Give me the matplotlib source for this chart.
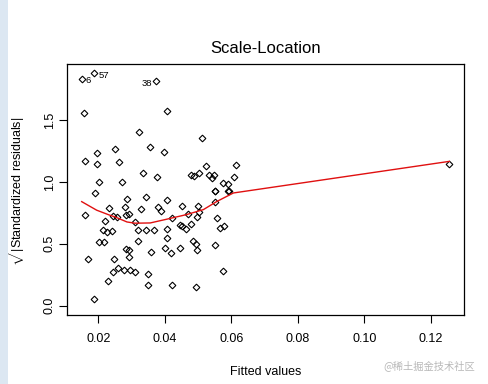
import numpy as np
import matplotlib
matplotlib.use("Agg")
import matplotlib.pyplot as plt
from matplotlib.patches import Rectangle

#%% Datos (Scale-Location de un lm)

# valores ajustados (eje x)
fitted = [0.0150, 0.0187, 0.0373, 0.0156, 0.0405, 0.0323, 0.0512, 0.0249, 0.0356, 0.0197,
          0.0398, 0.0160, 0.0196, 0.0262, 0.0335, 0.0376, 0.0202, 0.0271, 0.0190, 0.0343,
          0.0286, 0.0378, 0.0232, 0.0280, 0.0328, 0.0159, 0.0243, 0.0257, 0.0284, 0.0292,
          0.0220, 0.0311, 0.0213, 0.0226, 0.0241, 0.0319, 0.0344, 0.0366, 0.0201, 0.0217,
          0.0319, 0.0283, 0.0292, 0.0358, 0.0170, 0.0247, 0.0292, 0.0243, 0.0259, 0.0277,
          0.0295, 0.0310, 0.0349, 0.0229, 0.0349, 0.0187, 0.0524, 0.0613, 0.0479, 0.0487,
          0.0502, 0.0533, 0.0548, 0.0542, 0.0608, 0.0574, 0.0590, 0.0550, 0.0552, 0.0590,
          0.0592, 0.0407, 0.0552, 0.0388, 0.0452, 0.0499, 0.0502, 0.0469, 0.0496, 0.0421,
          0.0557, 0.0444, 0.0450, 0.0479, 0.0566, 0.0578, 0.0463, 0.0406, 0.0407, 0.0401,
          0.0418, 0.0445, 0.0484, 0.0494, 0.0496, 0.0551, 0.0575, 0.0421, 0.0493, 0.1255]

# sqrt(|residuos estandarizados|) (eje y)
sqrt_res = [1.831, 1.876, 1.811, 1.553, 1.569, 1.403, 1.353, 1.266, 1.279, 1.233,
            1.240, 1.170, 1.143, 1.161, 1.070, 1.039, 0.998, 0.999, 0.910, 0.875,
            0.863, 0.800, 0.789, 0.797, 0.782, 0.734, 0.725, 0.718, 0.733, 0.742,
            0.684, 0.676, 0.611, 0.593, 0.604, 0.612, 0.614, 0.613, 0.514, 0.514,
            0.523, 0.458, 0.448, 0.435, 0.378, 0.378, 0.395, 0.274, 0.302, 0.291,
            0.291, 0.274, 0.258, 0.201, 0.168, 0.056, 1.127, 1.134, 1.052, 1.043,
            1.070, 1.056, 1.056, 1.032, 1.036, 0.990, 0.980, 0.929, 0.925, 0.929,
            0.925, 0.853, 0.837, 0.762, 0.805, 0.805, 0.756, 0.740, 0.717, 0.711,
            0.709, 0.654, 0.643, 0.660, 0.631, 0.647, 0.619, 0.619, 0.549, 0.469,
            0.428, 0.466, 0.519, 0.498, 0.446, 0.493, 0.282, 0.168, 0.153, 1.145]

# puntos etiquetados (indice en las listas, nombre de la observacion)
id_index = [0, 1, 2]
id_names = ["6", "57", "38"]

# curva suavizada (roja)
smooth_x = [0.0150, 0.0195, 0.0235, 0.0250, 0.0286, 0.0310, 0.0356, 0.0402, 0.0466,
            0.0516, 0.0556, 0.0606, 0.1255]
smooth_y = [0.840, 0.771, 0.730, 0.717, 0.676, 0.666, 0.668, 0.696, 0.736,
            0.776, 0.841, 0.910, 1.165]

xticks = [0.02, 0.04, 0.06, 0.08, 0.10, 0.12]
xtick_labels = ["0.02", "0.04", "0.06", "0.08", "0.10", "0.12"]
yticks = [0.0, 0.5, 1.0, 1.5]
ytick_labels = ["0.0", "0.5", "1.0", "1.5"]

#%% Grafico

plt.rcParams['font.family'] = ['Liberation Sans', 'DejaVu Sans']
plt.rcParams['mathtext.fontset'] = 'custom'
plt.rcParams['mathtext.rm'] = 'Liberation Sans'
plt.rcParams['mathtext.it'] = 'Liberation Sans:italic'

fig = plt.figure(figsize=(4.88, 3.84), dpi=100)
fig.patch.set_facecolor("white")

# franja celeste de la ventana a la izquierda
fig.patches.append(Rectangle((0, 0), 8 / 488, 1, transform=fig.transFigure,
                             facecolor="#dce7f2", edgecolor="none", zorder=0))

ax = fig.add_axes([67 / 488, 69 / 384, 397 / 488, 251 / 384])

ax.plot(fitted, sqrt_res, linestyle="none", marker="D", markersize=3.4,
        markerfacecolor="none", markeredgecolor="black", markeredgewidth=0.8)
ax.plot(smooth_x, smooth_y, color="#e01010", linewidth=1.0)

for i, name in zip(id_index, id_names):
    if fitted[i] > 0.03:
        ax.annotate(name, (fitted[i], sqrt_res[i]), xytext=(-3, -1.5),
                    textcoords="offset points", ha="right", va="center", fontsize=6.8)
    else:
        ax.annotate(name, (fitted[i], sqrt_res[i]), xytext=(3, -1.5),
                    textcoords="offset points", ha="left", va="center", fontsize=6.8)

# limites como en R (rango + 4%)
xr = max(fitted) - min(fitted)
ax.set_xlim(min(fitted) - 0.04 * xr, max(fitted) + 0.04 * xr)
ymax = max(sqrt_res)
ax.set_ylim(0 - 0.04 * ymax, ymax + 0.04 * ymax)

ax.set_xticks(xticks)
ax.set_xticklabels(xtick_labels)
ax.set_yticks(yticks)
ax.set_yticklabels(ytick_labels, rotation=90, va="center")
ax.tick_params(axis="both", direction="out", length=6, width=0.8, labelsize=9, colors="black")
ax.tick_params(axis="x", pad=7)
ax.tick_params(axis="y", pad=2)

for s in ax.spines.values():
    s.set_linewidth(0.9)
    s.set_color("black")

ax.set_title("Scale-Location", fontsize=12, pad=8)
ax.set_xlabel("Fitted values", fontsize=9)
ax.xaxis.set_label_coords(0.5, -0.203)
ax.set_ylabel(r"$\sqrt{|\mathrm{Standardized\ residuals}|}$", fontsize=9)
ax.yaxis.set_label_coords(-0.100, 0.5)

fig.text(475 / 488, 0.048, "@稀土掘金技术社区", ha="right", va="center",
         fontsize=7.4, color="#b8b8b8", family=["Noto Sans CJK SC", "DejaVu Sans"])

fig.savefig("out.png", dpi=100)
